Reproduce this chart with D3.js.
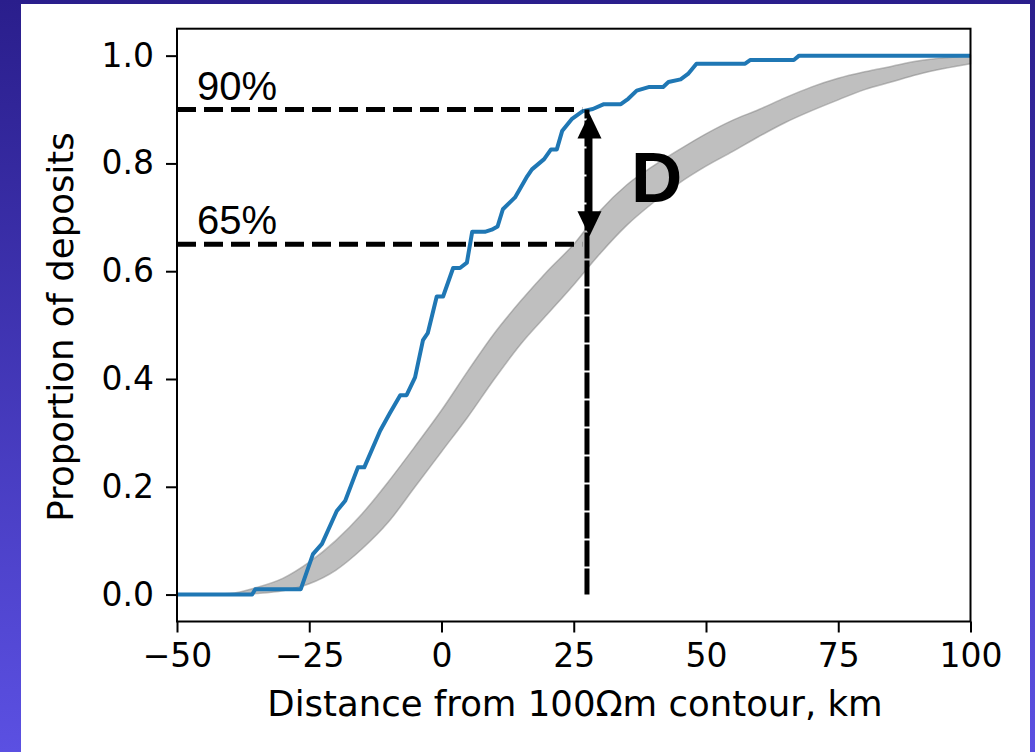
<!DOCTYPE html>
<html><head><meta charset="utf-8">
<script src="https://cdn.jsdelivr.net/npm/d3@7"></script>
<style>html,body{margin:0;padding:0;overflow:hidden;}svg{display:block;}</style>
</head><body>
<script>
// ---- data ----
const xTicks = [-50, -25, 0, 25, 50, 75, 100];
const yTicks = [0.0, 0.2, 0.4, 0.6, 0.8, 1.0];
const blueX = [-50,-35.8,-35.2,-26.6,-24.3,-22.6,-19.8,-18.2,-15.8,-14.6,-11.6,-9.8,-7.8,-6.6,-5.0,-3.5,-2.6,-0.9,0.3,2.2,3.5,4.8,5.8,8.2,9.5,10.6,11.6,13.9,16.2,17.1,19.4,20.7,21.8,22.8,24.6,26.7,28.6,30.7,33.9,35.3,36.9,39.3,41.9,42.9,45.2,46.6,48.2,57.4,58.4,66.6,67.6,100];
const blueY = [0,0,0.01,0.01,0.075,0.094,0.155,0.174,0.236,0.236,0.304,0.336,0.37,0.37,0.403,0.472,0.485,0.553,0.553,0.606,0.606,0.616,0.673,0.673,0.677,0.683,0.715,0.737,0.776,0.789,0.808,0.826,0.826,0.86,0.882,0.897,0.901,0.91,0.91,0.92,0.935,0.942,0.942,0.951,0.956,0.966,0.985,0.985,0.992,0.992,1.0,1.0];
const bandX =    [-45,-40,-35,-30,-25,-20,-15,-10,-5,0,5,10,15,20,25,30,35,40,45,50,55,60,65,70,75,80,85,90,95,100];
const bandLow =  [0,0,0.002,0.007,0.02,0.045,0.085,0.135,0.2,0.265,0.33,0.4,0.465,0.52,0.575,0.633,0.685,0.727,0.764,0.795,0.822,0.85,0.876,0.898,0.918,0.937,0.951,0.965,0.976,0.985];
const bandHigh = [0,0.002,0.013,0.03,0.06,0.1,0.15,0.21,0.275,0.342,0.415,0.485,0.545,0.6,0.65,0.712,0.76,0.795,0.826,0.855,0.88,0.9,0.922,0.942,0.958,0.97,0.98,0.99,0.996,1.0];
const refLevels = [0.9, 0.65];
const refLabels = ["90%", "65%"];
const dX = 27.5;
const dLabel = "D";
const xLabel = "Distance from 100Ωm contour, km";
const yLabel = "Proportion of deposits";

// ---- layout ----
const W = 1035, H = 752;
const svg = d3.select("body").append("svg").attr("width", W).attr("height", H);
const defs = svg.append("defs");
const grad = defs.append("linearGradient").attr("id","bg").attr("x1",0).attr("y1",0).attr("x2",0).attr("y2",1);
grad.append("stop").attr("offset","0%").attr("stop-color","#2a1e8c");
grad.append("stop").attr("offset","100%").attr("stop-color","#5b50e2");
svg.append("rect").attr("width",W).attr("height",H).attr("fill","url(#bg)");
svg.append("rect").attr("x",21).attr("y",4).attr("width",1009).attr("height",H-4).attr("fill","#fff");

const x = d3.scaleLinear().domain([-50,100]).range([177,970.5]);
const y = d3.scaleLinear().domain([-0.05,1.05]).range([621.5,28.7]);

const g = svg.append("g");
// band
const bandData = bandX.map((v,i)=>({x:v, lo:bandLow[i], hi:bandHigh[i]}));
g.append("path").datum(bandData)
  .attr("d", d3.area().x(d=>x(d.x)).y0(d=>y(d.lo)).y1(d=>y(d.hi)).curve(d3.curveMonotoneX))
  .attr("fill","#808080").attr("fill-opacity",0.5)
  .attr("stroke","#808080").attr("stroke-opacity",0.5).attr("stroke-width",1.5);

// blue ECDF
const blueData = blueX.map((v,i)=>[v, blueY[i]]);
g.append("path").datum(blueData)
  .attr("d", d3.line().x(d=>x(d[0])).y(d=>y(d[1])))
  .attr("fill","none").attr("stroke","#1f77b4").attr("stroke-width",4).attr("stroke-linejoin","round");

// reference dashed lines
refLevels.forEach((lv,i)=>{
  g.append("line").attr("x1",x(-50)).attr("x2",x(dX-0.9)).attr("y1",y(lv)).attr("y2",y(lv))
    .attr("stroke","#000").attr("stroke-width",5).attr("stroke-dasharray","19 8");
  g.append("text").attr("x",x(-46.2)).attr("y",y(lv)-10).text(refLabels[i])
    .attr("font-family","Liberation Sans, Arial, sans-serif").attr("font-size",40).attr("fill","#000");
});
// vertical dashed
g.append("line").attr("x1",x(dX)).attr("x2",x(dX)).attr("y1",y(0)).attr("y2",y(refLevels[0]))
  .attr("stroke","#000").attr("stroke-width",5).attr("stroke-dasharray","26 2");
// double arrow
const ax = x(dX)+2.5;
const yTop = y(refLevels[0])+4, yBot = y(refLevels[1])-8;
const headL = 25, headW = 12;
g.append("line").attr("x1",ax).attr("x2",ax).attr("y1",yTop+headL-2).attr("y2",yBot-headL+2)
  .attr("stroke","#000").attr("stroke-width",6);
g.append("path").attr("d",`M${ax},${yTop} L${ax-headW},${yTop+headL} L${ax+headW},${yTop+headL} Z`).attr("fill","#000");
g.append("path").attr("d",`M${ax},${yBot} L${ax-headW},${yBot-headL} L${ax+headW},${yBot-headL} Z`).attr("fill","#000");
g.append("text").attr("x",x(dX)+44).attr("y",y(0.725)-2).text(dLabel)
  .attr("font-family","Liberation Sans, Arial, sans-serif").attr("font-weight","bold").attr("font-size",71).attr("fill","#000");

// axes
const xAxis = svg.append("g").attr("transform","translate(0,621.5)")
  .call(d3.axisBottom(x).tickValues(xTicks).tickSize(11).tickPadding(11).tickFormat(d=>d3.format("")(d).replace("-","−")));
const yAxis = svg.append("g").attr("transform","translate(177,0)")
  .call(d3.axisLeft(y).tickValues(yTicks).tickSize(11).tickPadding(12).tickFormat(d3.format(".1f")));
[xAxis,yAxis].forEach(a=>{
  a.select(".domain").remove();
  a.selectAll(".tick line").attr("stroke","#000").attr("stroke-width",2);
  a.selectAll(".tick text").attr("font-family","DejaVu Sans, sans-serif").attr("font-size",33).attr("fill","#000");
});
// frame
svg.append("rect").attr("x",177).attr("y",28.7).attr("width",970.5-177).attr("height",621.5-28.7)
  .attr("fill","none").attr("stroke","#000").attr("stroke-width",2);

svg.append("text").attr("x",575).attr("y",716).attr("text-anchor","middle").text(xLabel)
  .attr("font-family","DejaVu Sans, sans-serif").attr("font-size",35.5).attr("fill","#000");
svg.append("text").attr("transform","translate(73,327) rotate(-90)").attr("text-anchor","middle").text(yLabel)
  .attr("font-family","DejaVu Sans, sans-serif").attr("font-size",35.5).attr("fill","#000");
</script>
</body></html>
